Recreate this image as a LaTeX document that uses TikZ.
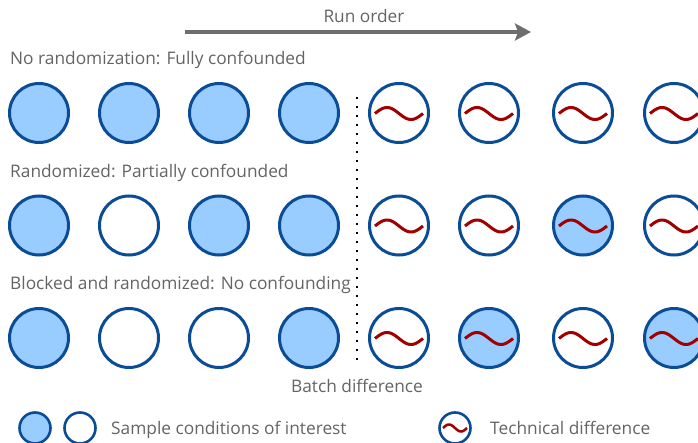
\documentclass[tikz,border=0pt]{standalone}
\usepackage{fontspec}
\setmainfont{Open Sans}
\usetikzlibrary{arrows.meta}
\definecolor{ringblue}{RGB}{10,76,150}
\definecolor{fillblue}{RGB}{153,204,255}
\definecolor{txtgray}{RGB}{100,100,100}
\definecolor{arrowgray}{RGB}{110,110,110}
\definecolor{wavered}{RGB}{160,0,0}
\tikzset{
  samp/.style={circle, draw=ringblue, line width=3pt, minimum size=59pt, inner sep=0pt, fill=white},
  filled/.style={fill=fillblue},
  lsamp/.style={circle, draw=ringblue, line width=2.6pt, minimum size=31pt, inner sep=0pt, fill=white},
  lbl/.style={anchor=base west, text=txtgray, font=\fontsize{17.3}{20}\selectfont, inner sep=0pt},
  clbl/.style={anchor=base, text=txtgray, font=\fontsize{17.3}{20}\selectfont, inner sep=0pt},
  wavepath/.style={draw=wavered, line width=3pt},
  pics/wave/.style={code={\draw[wavepath] plot[domain=-24:24, samples=40, smooth] (\x, {6*sin(\x*7.5)+0.5});}},
  pics/smallwave/.style={code={\draw[wavepath, line width=2.5pt] plot[domain=-12:12, samples=30, smooth] (\x, {3.5*sin(\x*15)});}},
}
\begin{document}
\begin{tikzpicture}[x=1pt,y=-1pt]
\useasboundingbox (0,0) rectangle (698,443);
\clip (0,0) rectangle (698,443);
% run order
\node[clbl] (runorder) at (364,23) {Run order};
\coordinate (arrS) at (185,32);
\coordinate (arrE) at (531,32);
\draw[arrowgray, line width=4pt, -{Stealth[length=16pt,width=17pt,inset=3pt]}] (arrS) -- (arrE);
% labels
\node[lbl] (l1) at (10,65) {No randomization: Fully confounded};
\node[lbl] (l2) at (10,178) {Randomized: Partially confounded};
\node[lbl] (l3) at (10,290) {Blocked and randomized: No confounding};
% dotted line
\coordinate (dtop) at (357,97);
\coordinate (dbot) at (357,360);
\draw[black, line width=2.2pt, dash pattern=on 2.2pt off 6.8pt] (dtop) -- (dbot);
\node[clbl] (batch) at (357,392) {Batch difference};
% rows
\foreach \r/\y/\fa/\fb/\fc/\fd/\fe/\ff/\fg/\fh in {1/113/1/1/1/1/0/0/0/0, 2/225.5/1/0/1/1/0/0/1/0, 3/338/1/0/0/1/0/1/0/1}{
  \foreach \i/\x/\f in {1/39/\fa, 2/129/\fb, 3/219/\fc, 4/309/\fd, 5/399/\fe, 6/489/\ff, 7/583/\fg, 8/674/\fh}{
    \ifnum\f=1
      \node[samp, filled] (c\r\i) at (\x,\y) {};
    \else
      \node[samp] (c\r\i) at (\x,\y) {};
    \fi
    \ifnum\i>4
      \pic at (c\r\i.center) {wave};
    \fi
  }
}
% legend
\node[lsamp, filled] (lega) at (35,428) {};
\node[lsamp] (legb) at (80,428) {};
\node[lbl] (legtxt1) at (111,434) {Sample conditions of interest};
\node[lsamp] (legc) at (455,428) {};
\pic at (legc.center) {smallwave};
\node[lbl] (legtxt2) at (490,434) {Technical difference};
\end{tikzpicture}
\end{document}
